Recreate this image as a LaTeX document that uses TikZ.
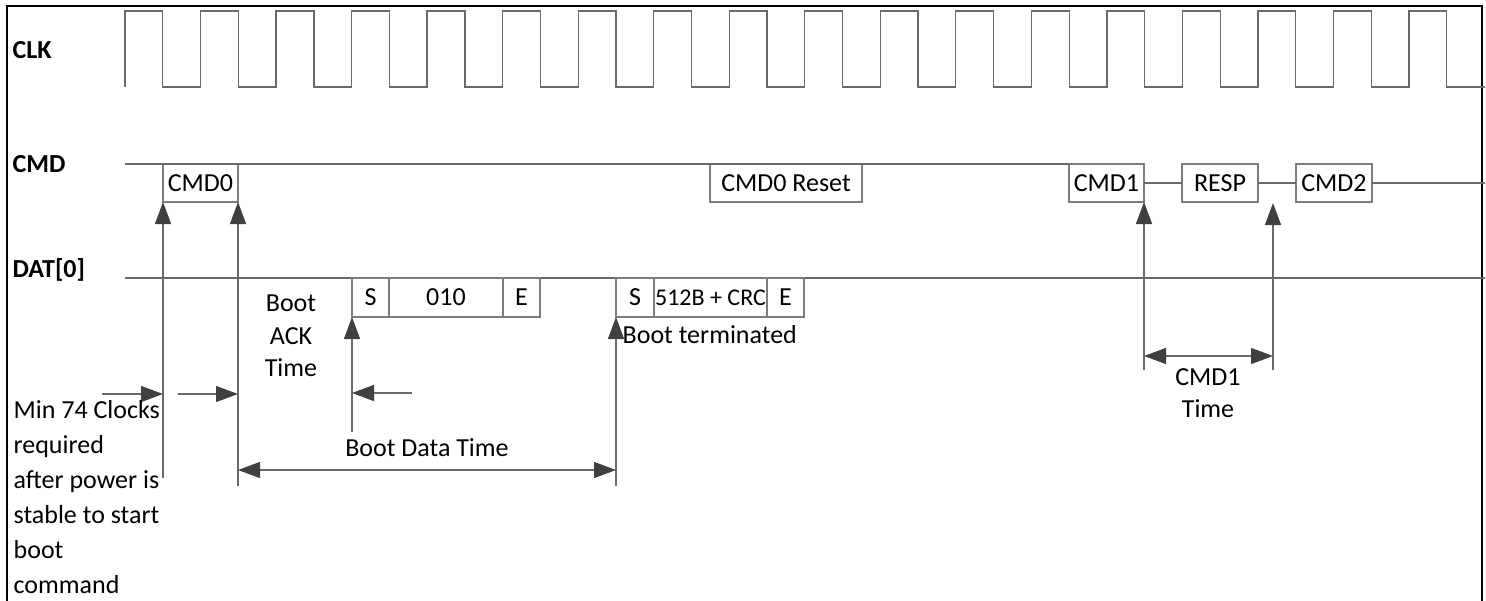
\documentclass[tikz,border=0pt]{standalone}
\usepackage{fontspec}
\setmainfont{Carlito}
\usetikzlibrary{arrows.meta,positioning}

\definecolor{wire}{RGB}{105,105,105}
\definecolor{frame}{RGB}{125,125,125}
\definecolor{tipc}{RGB}{64,64,64}

\begin{document}
\begin{tikzpicture}[x=1pt,y=-1pt,line width=1.3pt,
    sig/.style={draw=wire},
    field/.style={draw=frame,line width=1.1pt,outer sep=0pt,inner sep=0pt,
      minimum height=38pt,font=\fontsize{26}{30}\selectfont},
    signame/.style={font=\bfseries\fontsize{26}{30}\selectfont,anchor=west,inner sep=0pt},
    note/.style={font=\fontsize{26}{32.5}\selectfont,align=center},
    arr/.style={draw=wire,-{Triangle[length=22pt,width=16pt,color=tipc]}},
    darr/.style={draw=wire,{Triangle[length=22pt,width=16pt,color=tipc]}-{Triangle[length=22pt,width=16pt,color=tipc]}}]

  \useasboundingbox (0,0) rectangle (1486,600);
  % frame, open at the bottom
  \draw[line width=2.5pt] (7,601) -- (7,6) -- (1482,6) -- (1482,601);

  % signal names
  \node[signame] (clk) at (12,50) {CLK};
  \node[signame] (cmd) at (12,164) {CMD};
  \node[signame] (dat) at (12,270) {DAT[0]};

  % clock, 18 periods
  \draw[sig] (125,87) foreach \i in {1,...,18} {
    -- ++(0,-76) -- ++(37.8,0) -- ++(0,76) -- ++(37.73,0) };

  % CMD line with its fields
  \node[field,minimum width=75pt] (cmd0) at (200.5,183) {CMD0};
  \node[field,minimum width=152pt] (reset) at (786,183) {CMD0 Reset};
  \node[field,minimum width=75pt] (cmd1) at (1106.5,183) {CMD1};
  \node[field,minimum width=76pt] (resp) at (1220,183) {RESP};
  \node[field,minimum width=76pt] (cmd2) at (1334,183) {CMD2};
  \coordinate (cmdin) at (125,164);
  \coordinate (cmdout) at (1485,183);
  \draw[sig] (cmdin) -- (cmd1.north west);
  \draw[sig] (cmd1.east) -- (resp.west) (resp.east) -- (cmd2.west)
    (cmd2.east) -- (cmdout);

  % DAT[0] line with boot ack and boot data
  \coordinate (datin) at (125,278);
  \coordinate (datout) at (1485,278);
  \draw[sig] (datin) -- (datout);
  \node[field,minimum width=37pt,minimum height=39pt] (s1) at (370.5,297.5) {S};
  \node[field,minimum width=114pt,minimum height=39pt,right=0pt of s1] (ack) {010};
  \node[field,minimum width=37pt,minimum height=39pt,right=0pt of ack] (e1) {E};
  \node[field,minimum width=38pt,minimum height=39pt] (s2) at (635,297.5) {S};
  \node[field,minimum width=113pt,minimum height=39pt,right=0pt of s2,
    font=\fontsize{24}{28}\selectfont] (crc) {512B + CRC};
  \node[field,minimum width=37pt,minimum height=39pt,right=0pt of crc] (e2) {E};

  % timing marks
  \coordinate (p0) at (163,478);
  \coordinate (p1) at (238,486);
  \draw[arr] (p0) -- (cmd0.south west);
  \draw[arr] (p1) -- (cmd0.south east);
  \coordinate (m0) at (102,394);
  \coordinate (m1) at (163,394);
  \coordinate (m2) at (178,394);
  \coordinate (m3) at (238,394);
  \draw[arr] (m0) -- (m1);
  \draw[arr] (m2) -- (m3);
  \coordinate (q0) at (352,432);
  \coordinate (q1) at (412,393);
  \coordinate (q2) at (352,393);
  \draw[arr] (q0) -- (s1.south west);
  \draw[arr] (q1) -- (q2);
  \coordinate (t0) at (616,486);
  \draw[arr] (t0) -- (s2.south west);
  \coordinate (b0) at (238,470);
  \coordinate (b1) at (616,470);
  \draw[darr] (b0) -- (b1);
  \coordinate (c0) at (1144,370);
  \coordinate (c1) at (1273,370);
  \coordinate (c2) at (1273,203);
  \coordinate (c3) at (1144,356);
  \coordinate (c4) at (1273,356);
  \draw[arr] (c0) -- (cmd1.south east);
  \draw[arr] (c1) -- (c2);
  \draw[darr] (c3) -- (c4);

  % captions
  \node[note] (acktime) at (291,336) {Boot\\ACK\\Time};
  \node[note] (datatime) at (427,448) {Boot Data Time};
  \node[note,anchor=west,inner sep=0pt] (bootend) at (622,335) {Boot terminated};
  \node[note] (cmdtime) at (1208,393) {CMD1\\Time};
  \node[note,align=left,anchor=north west,inner sep=0pt,
    font=\fontsize{26}{35}\selectfont] (minclk) at (13,400)
    {Min 74 Clocks\\required\\after power is\\stable to start\\boot\\command};
\end{tikzpicture}
\end{document}
